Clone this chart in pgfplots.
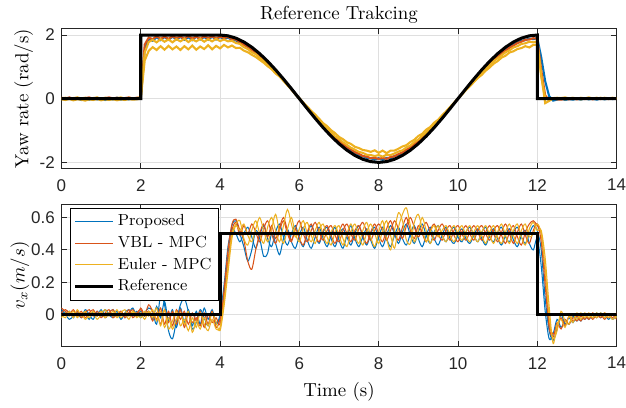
\documentclass[border=0pt]{standalone}
\usepackage{fontspec}
\newfontfamily\ticksf{Liberation Sans}
\usepackage{pgfplots}
\pgfplotsset{compat=1.18}
\usepackage{pgfplotstable}

\definecolor{mblue}{RGB}{0,114,189}
\definecolor{morange}{RGB}{217,83,25}
\definecolor{myellow}{RGB}{237,177,32}
\definecolor{gridc}{RGB}{223,223,223}
\definecolor{axc}{RGB}{38,38,38}

% yaw rate: t, proposed, vbl, euler (two runs)
\pgfplotstableread{
t P V E1 E2
0.0 0.02 0.03 -0.02 0.01
0.1 -0.01 0.01 -0.04 0.03
0.2 0.03 0.04 -0.01 0.00
0.3 -0.03 0.00 -0.05 0.02
0.4 0.01 0.03 -0.02 0.04
0.5 -0.04 -0.01 -0.03 0.01
0.6 0.00 0.02 -0.06 0.03
0.7 -0.03 0.04 -0.02 -0.01
0.8 0.02 0.00 -0.04 0.02
0.9 -0.02 0.03 -0.01 0.04
1.0 0.01 -0.01 -0.05 0.00
1.1 -0.04 0.02 -0.02 0.03
1.2 0.00 0.04 -0.04 0.01
1.3 -0.02 0.01 -0.01 -0.02
1.4 0.03 0.03 -0.05 0.02
1.5 -0.03 0.00 -0.02 0.04
1.6 0.01 0.02 -0.04 0.00
1.7 -0.02 0.04 -0.01 0.03
1.8 0.02 0.01 -0.03 0.01
1.9 -0.01 0.03 -0.02 0.02
2.0 0.02 0.04 0.00 0.05
2.1 1.55 1.70 1.20 1.45
2.2 1.87 1.92 1.50 1.78
2.3 1.82 1.87 1.62 1.85
2.4 1.93 1.96 1.53 1.77
2.5 1.84 1.88 1.65 1.87
2.6 1.94 1.95 1.54 1.79
2.7 1.85 1.88 1.66 1.86
2.8 1.95 1.96 1.55 1.77
2.9 1.86 1.90 1.64 1.87
3.0 1.94 1.95 1.53 1.80
3.1 1.85 1.88 1.65 1.88
3.2 1.93 1.97 1.55 1.78
3.3 1.84 1.89 1.67 1.86
3.4 1.95 1.95 1.54 1.80
3.5 1.86 1.88 1.64 1.88
3.6 1.94 1.96 1.56 1.79
3.7 1.85 1.90 1.68 1.87
3.8 1.95 1.96 1.55 1.80
3.9 1.86 1.89 1.66 1.88
4.0 1.94 1.95 1.58 1.81
4.1 1.87 1.91 1.69 1.86
4.2 1.92 1.94 1.61 1.80
4.3 1.85 1.87 1.67 1.82
4.4 1.83 1.86 1.59 1.75
4.5 1.75 1.78 1.60 1.72
4.6 1.72 1.69 1.51 1.62
4.7 1.62 1.64 1.46 1.56
4.8 1.56 1.53 1.38 1.46
4.9 1.45 1.46 1.31 1.40
5.0 1.37 1.34 1.22 1.28
5.1 1.24 1.26 1.13 1.19
5.2 1.14 1.12 1.02 1.06
5.3 1.00 1.02 0.93 0.96
5.4 0.88 0.86 0.79 0.83
5.5 0.73 0.75 0.70 0.70
5.6 0.60 0.59 0.56 0.57
5.7 0.44 0.46 0.43 0.42
5.8 0.31 0.29 0.29 0.30
5.9 0.14 0.16 0.15 0.13
6.0 0.01 -0.01 0.02 0.00
6.1 -0.15 -0.14 -0.12 -0.15
6.2 -0.29 -0.30 -0.25 -0.27
6.3 -0.45 -0.43 -0.38 -0.42
6.4 -0.58 -0.59 -0.50 -0.55
6.5 -0.73 -0.71 -0.63 -0.69
6.6 -0.86 -0.86 -0.77 -0.81
6.7 -1.00 -0.97 -0.86 -0.95
6.8 -1.11 -1.12 -0.99 -1.05
6.9 -1.24 -1.21 -1.08 -1.18
7.0 -1.33 -1.34 -1.20 -1.26
7.1 -1.45 -1.42 -1.27 -1.37
7.2 -1.53 -1.53 -1.37 -1.45
7.3 -1.63 -1.59 -1.42 -1.54
7.4 -1.69 -1.68 -1.51 -1.60
7.5 -1.77 -1.73 -1.55 -1.67
7.6 -1.80 -1.80 -1.61 -1.70
7.7 -1.86 -1.82 -1.63 -1.76
7.8 -1.87 -1.87 -1.67 -1.77
7.9 -1.91 -1.86 -1.62 -1.80
8.0 -1.87 -1.89 -1.70 -1.77
8.1 -1.92 -1.86 -1.63 -1.82
8.2 -1.86 -1.89 -1.71 -1.76
8.3 -1.87 -1.83 -1.63 -1.77
8.4 -1.80 -1.81 -1.63 -1.72
8.5 -1.77 -1.74 -1.57 -1.66
8.6 -1.69 -1.69 -1.50 -1.62
8.7 -1.63 -1.60 -1.46 -1.53
8.8 -1.53 -1.54 -1.36 -1.47
8.9 -1.45 -1.43 -1.29 -1.36
9.0 -1.34 -1.34 -1.17 -1.28
9.1 -1.24 -1.22 -1.10 -1.16
9.2 -1.11 -1.12 -0.97 -1.07
9.3 -1.00 -0.98 -0.89 -0.93
9.4 -0.86 -0.86 -0.75 -0.83
9.5 -0.73 -0.71 -0.66 -0.68
9.6 -0.58 -0.59 -0.52 -0.56
9.7 -0.45 -0.43 -0.40 -0.41
9.8 -0.29 -0.30 -0.26 -0.29
9.9 -0.15 -0.14 -0.13 -0.14
10.0 0.01 -0.01 0.01 0.00
10.1 0.14 0.15 0.13 0.15
10.2 0.30 0.29 0.27 0.28
10.3 0.44 0.45 0.39 0.43
10.4 0.59 0.58 0.52 0.55
10.5 0.72 0.73 0.65 0.70
10.6 0.87 0.85 0.75 0.81
10.7 0.99 0.99 0.88 0.95
10.8 1.12 1.10 0.98 1.05
10.9 1.23 1.23 1.10 1.18
11.0 1.35 1.32 1.18 1.27
11.1 1.44 1.44 1.29 1.36
11.2 1.54 1.51 1.35 1.46
11.3 1.61 1.61 1.45 1.52
11.4 1.70 1.67 1.49 1.61
11.5 1.75 1.75 1.56 1.65
11.6 1.82 1.79 1.59 1.72
11.7 1.84 1.85 1.65 1.74
11.8 1.89 1.86 1.61 1.79
11.9 1.87 1.90 1.69 1.77
12.0 1.91 1.88 1.70 1.80
12.1 1.30 0.90 0.75 0.70
12.2 0.55 0.10 -0.14 0.02
12.3 0.08 -0.04 -0.07 -0.05
12.4 -0.06 0.01 0.02 0.00
12.5 -0.03 -0.02 0.03 -0.01
12.6 0.01 -0.03 0.02 0.01
12.7 -0.04 0.00 0.04 -0.02
12.8 -0.01 -0.02 0.01 0.02
12.9 -0.03 0.01 0.03 -0.01
13.0 0.00 -0.02 0.00 0.02
13.1 -0.03 0.01 0.03 -0.02
13.2 0.01 -0.01 0.01 0.01
13.3 -0.02 0.02 0.04 -0.01
13.4 0.00 -0.02 0.01 0.02
13.5 -0.03 0.01 0.03 0.00
13.6 0.01 -0.01 0.00 0.03
13.7 -0.02 0.02 0.03 -0.01
13.8 0.01 -0.01 0.01 0.02
13.9 -0.01 0.01 0.03 0.00
14.0 0.00 -0.01 0.01 0.02
}\yawdata

% longitudinal velocity: t, two runs per method
\pgfplotstableread{
t P1 P2 V1 V2 E1 E2
0.0 0.02 0.03 0.04 0.01 0.00 -0.02
0.1 0.00 0.01 0.02 0.03 -0.02 0.01
0.2 -0.03 0.02 0.00 0.01 0.02 -0.01
0.3 -0.01 -0.02 0.03 -0.01 -0.02 0.02
0.4 0.01 0.02 -0.01 0.02 0.03 -0.02
0.5 -0.02 -0.01 0.02 -0.02 -0.01 0.01
0.6 0.03 0.01 -0.02 0.01 0.02 -0.03
0.7 0.00 -0.03 0.01 0.03 -0.02 0.00
0.8 -0.03 0.02 0.03 -0.01 0.01 0.02
0.9 0.02 -0.01 -0.01 0.02 -0.03 -0.01
1.0 -0.01 0.03 0.02 -0.02 0.00 0.02
1.1 0.03 -0.02 -0.02 0.01 0.03 -0.02
1.2 0.00 0.01 0.01 0.03 -0.01 0.01
1.3 -0.02 0.03 0.03 -0.02 0.02 -0.01
1.4 0.02 -0.01 -0.01 0.00 -0.02 0.03
1.5 -0.03 0.02 0.02 0.02 0.01 -0.02
1.6 0.01 -0.02 -0.02 -0.01 0.03 0.01
1.7 0.03 0.01 0.01 0.03 -0.01 -0.03
1.8 -0.01 0.04 0.03 -0.02 0.02 0.02
1.9 0.02 -0.01 -0.01 0.01 -0.02 0.00
2.0 -0.02 0.02 0.04 0.03 0.01 -0.02
2.1 0.01 -0.01 0.00 -0.01 -0.03 0.02
2.2 0.04 0.02 0.06 0.02 0.02 -0.01
2.3 0.02 -0.03 0.02 -0.04 -0.02 0.03
2.4 -0.06 0.05 -0.03 0.01 0.04 -0.04
2.5 0.12 -0.02 0.04 -0.06 -0.07 0.02
2.6 0.06 0.08 -0.06 0.03 0.03 -0.08
2.7 -0.10 -0.04 0.02 -0.05 -0.09 -0.02
2.8 -0.15 0.03 -0.07 0.02 -0.04 -0.09
2.9 -0.04 -0.08 0.03 -0.06 0.02 -0.03
3.0 0.06 0.04 -0.03 0.03 -0.07 0.01
3.1 0.10 -0.05 0.02 -0.08 -0.03 -0.06
3.2 0.02 0.03 -0.06 0.01 -0.10 0.02
3.3 -0.09 -0.07 0.01 -0.05 -0.02 -0.11
3.4 -0.05 0.02 -0.04 -0.02 -0.08 -0.04
3.5 0.03 -0.06 0.02 -0.07 0.01 -0.09
3.6 -0.02 0.04 -0.08 0.01 -0.06 -0.02
3.7 -0.07 -0.03 0.00 -0.06 -0.10 -0.07
3.8 0.02 0.03 -0.05 0.02 -0.03 0.01
3.9 -0.05 -0.06 -0.02 -0.08 -0.09 -0.05
4.0 -0.02 0.00 -0.06 -0.03 -0.08 -0.10
4.1 0.12 0.18 0.15 0.10 0.08 0.05
4.2 0.38 0.42 0.40 0.33 0.30 0.26
4.3 0.55 0.53 0.56 0.52 0.50 0.47
4.4 0.58 0.50 0.59 0.57 0.56 0.55
4.5 0.50 0.45 0.52 0.49 0.58 0.52
4.6 0.42 0.50 0.46 0.55 0.47 0.56
4.7 0.33 0.54 0.33 0.50 0.43 0.49
4.8 0.40 0.48 0.28 0.56 0.52 0.45
4.9 0.52 0.41 0.40 0.51 0.58 0.53
5.0 0.47 0.49 0.50 0.45 0.50 0.60
5.1 0.36 0.55 0.56 0.53 0.44 0.52
5.2 0.38 0.47 0.48 0.58 0.54 0.45
5.3 0.50 0.42 0.55 0.50 0.60 0.53
5.4 0.44 0.51 0.47 0.44 0.52 0.62
5.5 0.37 0.56 0.54 0.52 0.45 0.51
5.6 0.47 0.48 0.60 0.58 0.55 0.44
5.7 0.53 0.43 0.52 0.50 0.65 0.53
5.8 0.45 0.50 0.46 0.45 0.56 0.60
5.9 0.41 0.55 0.53 0.53 0.48 0.50
6.0 0.49 0.47 0.58 0.47 0.53 0.45
6.1 0.54 0.42 0.50 0.43 0.58 0.53
6.2 0.46 0.50 0.45 0.51 0.50 0.57
6.3 0.41 0.55 0.52 0.56 0.45 0.49
6.4 0.48 0.49 0.57 0.49 0.52 0.44
6.5 0.54 0.44 0.51 0.45 0.57 0.52
6.6 0.47 0.51 0.46 0.52 0.49 0.56
6.7 0.42 0.54 0.52 0.55 0.44 0.48
6.8 0.49 0.47 0.55 0.49 0.51 0.43
6.9 0.54 0.42 0.49 0.44 0.55 0.51
7.0 0.46 0.49 0.45 0.51 0.49 0.55
7.1 0.41 0.53 0.52 0.56 0.43 0.47
7.2 0.49 0.48 0.56 0.50 0.50 0.42
7.3 0.55 0.43 0.50 0.45 0.56 0.51
7.4 0.47 0.50 0.46 0.52 0.49 0.56
7.5 0.42 0.55 0.53 0.55 0.44 0.49
7.6 0.48 0.48 0.57 0.49 0.52 0.43
7.7 0.53 0.43 0.51 0.44 0.57 0.51
7.8 0.46 0.50 0.46 0.51 0.48 0.56
7.9 0.41 0.54 0.52 0.56 0.42 0.50
8.0 0.48 0.47 0.56 0.50 0.51 0.44
8.1 0.54 0.42 0.52 0.45 0.58 0.52
8.2 0.47 0.49 0.46 0.53 0.47 0.58
8.3 0.42 0.55 0.52 0.58 0.40 0.49
8.4 0.49 0.50 0.58 0.51 0.52 0.41
8.5 0.54 0.44 0.53 0.46 0.63 0.54
8.6 0.47 0.51 0.47 0.54 0.58 0.62
8.7 0.43 0.56 0.55 0.60 0.46 0.66
8.8 0.50 0.49 0.60 0.52 0.44 0.55
8.9 0.55 0.44 0.54 0.47 0.57 0.45
9.0 0.47 0.51 0.48 0.55 0.62 0.52
9.1 0.42 0.56 0.53 0.50 0.53 0.60
9.2 0.49 0.49 0.57 0.45 0.45 0.52
9.3 0.54 0.44 0.51 0.52 0.51 0.44
9.4 0.47 0.51 0.46 0.56 0.55 0.50
9.5 0.43 0.55 0.52 0.50 0.48 0.55
9.6 0.49 0.49 0.56 0.46 0.52 0.49
9.7 0.54 0.45 0.51 0.52 0.55 0.45
9.8 0.47 0.51 0.46 0.55 0.49 0.51
9.9 0.44 0.54 0.52 0.49 0.45 0.55
10.0 0.49 0.48 0.55 0.45 0.51 0.50
10.1 0.53 0.45 0.50 0.51 0.55 0.46
10.2 0.47 0.51 0.46 0.55 0.49 0.51
10.3 0.44 0.54 0.51 0.50 0.45 0.55
10.4 0.49 0.49 0.55 0.46 0.51 0.49
10.5 0.53 0.45 0.51 0.52 0.55 0.45
10.6 0.47 0.51 0.46 0.55 0.49 0.51
10.7 0.43 0.54 0.51 0.50 0.44 0.55
10.8 0.49 0.48 0.55 0.46 0.51 0.49
10.9 0.53 0.45 0.50 0.52 0.55 0.44
11.0 0.47 0.51 0.45 0.55 0.48 0.51
11.1 0.43 0.54 0.51 0.49 0.44 0.56
11.2 0.49 0.48 0.56 0.44 0.51 0.49
11.3 0.53 0.45 0.50 0.51 0.56 0.44
11.4 0.46 0.51 0.44 0.55 0.49 0.52
11.5 0.42 0.54 0.51 0.48 0.44 0.56
11.6 0.49 0.48 0.56 0.43 0.52 0.48
11.7 0.52 0.44 0.49 0.51 0.56 0.43
11.8 0.44 0.50 0.44 0.56 0.48 0.53
11.9 0.40 0.55 0.52 0.58 0.50 0.57
12.0 0.47 0.52 0.56 0.55 0.56 0.52
12.1 0.30 0.40 0.45 0.50 0.50 0.52
12.2 0.02 0.10 0.18 0.25 0.28 0.35
12.3 -0.15 -0.10 -0.08 -0.05 -0.02 0.05
12.4 -0.12 -0.16 -0.14 -0.12 -0.15 -0.18
12.5 -0.03 -0.09 -0.05 -0.08 -0.10 -0.06
12.6 -0.08 0.00 -0.09 -0.02 0.02 -0.03
12.7 -0.04 -0.06 -0.03 -0.07 -0.04 -0.08
12.8 -0.06 -0.02 -0.06 -0.01 -0.06 -0.01
12.9 -0.01 -0.05 -0.02 -0.04 0.00 -0.05
13.0 -0.04 -0.01 -0.04 -0.01 -0.03 0.01
13.1 -0.01 -0.04 -0.01 -0.04 0.01 -0.03
13.2 -0.03 0.00 -0.03 0.00 -0.02 0.01
13.3 0.00 -0.03 0.00 -0.03 0.01 -0.02
13.4 -0.02 0.00 -0.03 0.01 -0.02 0.00
13.5 0.01 -0.02 0.00 -0.02 0.01 -0.02
13.6 -0.02 0.01 -0.02 0.00 -0.01 0.01
13.7 0.00 -0.02 0.01 -0.03 0.01 -0.02
13.8 -0.03 0.00 -0.02 0.00 -0.02 0.00
13.9 0.00 -0.03 0.00 -0.02 0.00 -0.03
14.0 -0.02 -0.01 -0.03 0.01 -0.02 -0.01
}\vxdata

\pgfplotsset{
  mlab/.style={
    scale only axis, width=294pt,
    xmin=0, xmax=14,
    xtick={0,2,...,14}, xticklabels={0,2,4,6,8,10,12,14},
    grid=major, major grid style={color=gridc, line width=0.4pt},
    axis line style={color=axc, line width=0.4pt},
    tick style={color=axc, line width=0.4pt}, tick align=inside,
    major tick length=3pt,
    ticklabel style={font=\ticksf\fontsize{9}{10}\selectfont, color=axc},
    xticklabel style={inner xsep=0pt, yshift=-2pt},
    label style={font=\fontsize{10}{12}\selectfont},
    title style={font=\fontsize{10}{12}\selectfont, yshift=-6.8pt},
  }
}

\begin{document}
\begin{tikzpicture}
\begin{axis}[mlab, at={(0,94.3pt)}, height=74.2pt,
    ymin=-2.2, ymax=2.2, ytick={-2,0,2}, yticklabels={-2,0,2},
    title={Reference Trakcing},
    ylabel={Yaw rate (rad/s)},
    ylabel style={at={(axis description cs:-0.068,0.5)}, anchor=center, inner ysep=5.5pt},
]
\addplot[mblue, line width=1.1pt] table[x=t, y=P] {\yawdata};
\addplot[morange, line width=1.1pt] table[x=t, y=V] {\yawdata};
\addplot[myellow, line width=1.1pt] table[x=t, y=E1] {\yawdata};
\addplot[myellow, line width=1.1pt] table[x=t, y=E2] {\yawdata};
\addplot[black, line width=1.6pt] coordinates {
(0,0) (2,0) (2,2) (4,2) (4.2,1.975) (4.4,1.902) (4.6,1.782) (4.8,1.618)
(5,1.414) (5.2,1.176) (5.4,0.908) (5.6,0.618) (5.8,0.313) (6,0)
(6.2,-0.313) (6.4,-0.618) (6.6,-0.908) (6.8,-1.176) (7,-1.414) (7.2,-1.618)
(7.4,-1.782) (7.6,-1.902) (7.8,-1.975) (8,-2) (8.2,-1.975) (8.4,-1.902)
(8.6,-1.782) (8.8,-1.618) (9,-1.414) (9.2,-1.176) (9.4,-0.908) (9.6,-0.618)
(9.8,-0.313) (10,0) (10.2,0.313) (10.4,0.618) (10.6,0.908) (10.8,1.176)
(11,1.414) (11.2,1.618) (11.4,1.782) (11.6,1.902) (11.8,1.975) (12,2)
(12,0) (14,0)
};
\end{axis}

\begin{axis}[mlab, at={(0,0)}, height=75.3pt,
    ymin=-0.2, ymax=0.68, ytick={0,0.2,0.4,0.6}, yticklabels={0,0.2,0.4,0.6},
    xlabel={Time (s)},
    ylabel={$v_x (m/s)$},
    ylabel style={at={(axis description cs:-0.075,0.5)}, anchor=center, inner ysep=5.5pt},
    legend style={at={(0.016,0.979)}, anchor=north west, draw=black,
      line width=0.4pt, font=\fontsize{8.5}{10.3}\selectfont,
      inner sep=1.5pt, row sep=0pt},
    legend cell align=left,
    legend image code/.code={\draw[#1] (0cm,0cm) -- (0.7cm,0cm);},
    legend entries={Proposed, VBL - MPC, Euler - MPC, Reference},
]
\addplot[mblue, line width=0.55pt, smooth, tension=0.5] table[x=t, y=P1] {\vxdata};
\addplot[mblue, line width=0.55pt, smooth, tension=0.5, forget plot] table[x=t, y=P2] {\vxdata};
\addplot[morange, line width=0.55pt, smooth, tension=0.5] table[x=t, y=V1] {\vxdata};
\addplot[morange, line width=0.55pt, smooth, tension=0.5, forget plot] table[x=t, y=V2] {\vxdata};
\addplot[myellow, line width=0.55pt, smooth, tension=0.5] table[x=t, y=E1] {\vxdata};
\addplot[myellow, line width=0.55pt, smooth, tension=0.5, forget plot] table[x=t, y=E2] {\vxdata};
\addplot[black, line width=1.6pt] coordinates {
(0,0) (4,0) (4,0.5) (12,0.5) (12,0) (14,0)
};
\end{axis}
\end{tikzpicture}
\end{document}
